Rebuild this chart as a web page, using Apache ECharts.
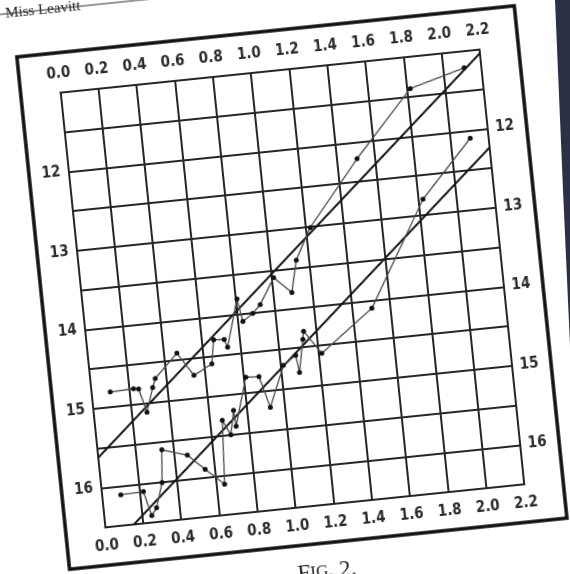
<!DOCTYPE html>
<html>
<head>
<meta charset="utf-8">
<script src="https://cdn.jsdelivr.net/npm/echarts@6/dist/echarts.min.js"></script>
<style>
  html, body { margin: 0; padding: 0; width: 570px; height: 574px; overflow: hidden; background: #fff; }
  #backdrop { position: absolute; left: 0; top: 0; width: 570px; height: 574px;
              background: #2b3045; clip-path: polygon(555px 0, 570px 0, 570px 345px, 563px 190px); }
  #sheet { position: absolute; left: -60px; top: -60px; width: 690px; height: 694px;
           transform-origin: 352.25px 348.5px; transform: rotate(-5.87deg); }
</style>
</head>
<body>
<div id="backdrop"></div>
<div id="sheet"></div>
<script>
// Log of period (days) against photographic magnitude, maxima and minima.
const logPeriodTicks = [0.0, 0.2, 0.4, 0.6, 0.8, 1.0, 1.2, 1.4, 1.6, 1.8, 2.0, 2.2];
const magnitudeTicks = [12, 13, 14, 15, 16];

const maxLogP = [0.099, 0.222, 0.248, 0.279, 0.322, 0.340, 0.466, 0.543, 0.642, 0.664, 0.719, 0.733,
                 0.807, 0.826, 0.881, 0.925, 1.009, 1.096, 1.136, 1.226, 1.506, 1.820, 2.111];
const maxMag   = [14.81, 14.80, 14.81, 15.11, 14.81, 14.70, 14.41, 14.71, 14.59, 14.29, 14.30, 14.40,
                  13.81, 14.10, 14.01, 13.91, 13.59, 13.80, 13.40, 13.01, 12.21, 11.40, 11.21];

const minLogP = [0.099, 0.218, 0.249, 0.278, 0.320, 0.336, 0.466, 0.551, 0.644, 0.666, 0.703, 0.730,
                 0.735, 0.811, 0.880, 0.923, 1.013, 1.082, 1.093, 1.128, 1.136, 1.219, 1.503, 1.827, 2.105];
const minMag   = [16.11, 16.10, 16.41, 16.32, 16.01, 15.60, 15.70, 15.90, 16.11, 15.31, 15.50, 15.20,
                  15.40, 14.80, 14.81, 15.21, 14.70, 14.59, 14.81, 14.40, 14.30, 14.60, 14.10, 12.80, 12.10];

// Straight lines drawn through the maxima and the minima.
const maxFitLogP = [0.0, 2.2];
const maxFitMag  = [15.62, 11.05];
const minFitLogP = [0.15, 2.2];
const minFitMag  = [16.5, 12.24];

const pair = (xs, ys) => xs.map((x, i) => [x, ys[i]]);

const OFF = 60;                       // sheet is larger than the window so rotated corners stay covered
const gridLine = { color: '#262626', width: 2 };
const labelFont = { fontFamily: '"DejaVu Sans Condensed", "DejaVu Sans", sans-serif', fontSize: 15,
                    fontWeight: 'bold', color: '#2a2a2a' };
const serif = '"Liberation Serif", "DejaVu Serif", serif';

const xAxisBase = {
  type: 'value', min: 0, max: 2.2, interval: 0.2,
  axisLine: { show: true, onZero: false, lineStyle: gridLine },
  axisTick: { show: false },
  splitLine: { show: true, lineStyle: gridLine },
  axisLabel: Object.assign({ margin: 11, showMinLabel: true, showMaxLabel: true,
    formatter: v => {
      const t = logPeriodTicks.find(t => Math.abs(t - v) < 1e-6);
      return t === undefined ? '' : t.toFixed(1);
    } }, labelFont)
};
const yAxisBase = {
  type: 'value', inverse: true, min: 11, max: 16.5, interval: 0.5,
  axisLine: { show: true, onZero: false, lineStyle: gridLine },
  axisTick: { show: false },
  splitLine: { show: true, lineStyle: gridLine },
  axisLabel: Object.assign({ margin: 8,
    formatter: v => magnitudeTicks.some(t => Math.abs(t - v) < 1e-6) ? String(Math.round(v)) : '' }, labelFont)
};

const chart = echarts.init(document.getElementById('sheet'), null, { renderer: 'canvas' });
chart.setOption({
  backgroundColor: 'transparent',
  animation: false,
  grid: { left: 81.65 + OFF, top: 69.85 + OFF, width: 421.2, height: 437.3 },
  xAxis: [
    Object.assign({}, xAxisBase, { position: 'bottom' }),
    Object.assign({}, xAxisBase, { position: 'top', splitLine: { show: false } })
  ],
  yAxis: [
    Object.assign({}, yAxisBase, { position: 'left' }),
    Object.assign({}, yAxisBase, { position: 'right', splitLine: { show: false } })
  ],
  graphic: [
    { type: 'rect', shape: { x: 42 + OFF, y: 30 + OFF, width: 500, height: 515 },
      style: { fill: 'transparent', stroke: '#111', lineWidth: 3.5 }, z: 10 },
    { type: 'text', x: 298 + OFF, y: 574 + OFF,
      style: { text: '{a|F}{b|IG.}  {a|2.}', align: 'center', verticalAlign: 'middle',
               rich: { a: { fontFamily: serif, fontSize: 23, fill: '#222' },
                       b: { fontFamily: serif, fontSize: 17, fill: '#222' } } } },
    { type: 'text', x: 35 + OFF, y: -21 + OFF,
      style: { text: 'Miss Leavitt', fontFamily: serif, fontSize: 15, fill: '#222' } },
    { type: 'line', shape: { x1: 25 + OFF, y1: -14 + OFF, x2: 180 + OFF, y2: -14 + OFF },
      style: { stroke: '#333', lineWidth: 1 } }
  ],
  series: [
    { type: 'line', data: pair(maxFitLogP, maxFitMag), symbol: 'none',
      lineStyle: { color: '#111', width: 2 }, z: 3 },
    { type: 'line', data: pair(minFitLogP, minFitMag), symbol: 'none',
      lineStyle: { color: '#111', width: 2 }, z: 3 },
    { type: 'line', data: pair(maxLogP, maxMag), symbol: 'circle', symbolSize: 5,
      lineStyle: { color: '#4a4a4a', width: 1.3 }, itemStyle: { color: '#111' }, z: 4 },
    { type: 'line', data: pair(minLogP, minMag), symbol: 'circle', symbolSize: 5,
      lineStyle: { color: '#4a4a4a', width: 1.3 }, itemStyle: { color: '#111' }, z: 4 }
  ]
});
</script>
</body>
</html>
